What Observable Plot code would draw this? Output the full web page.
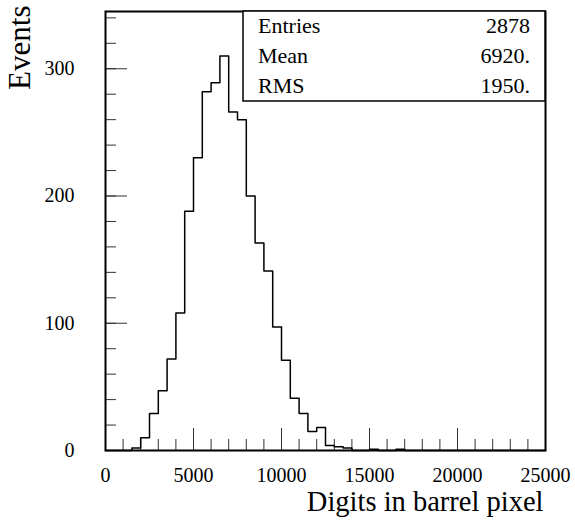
<!DOCTYPE html>
<html>
<head>
<meta charset="utf-8">
<script src="https://cdn.jsdelivr.net/npm/d3@7"></script>
<script src="https://cdn.jsdelivr.net/npm/@observablehq/plot@0.6"></script>
<style>
  html, body { margin: 0; padding: 0; background: white; }
</style>
</head>
<body>
<div id="chart"></div>
<script>
// Histogram: 50 bins of width 500 from 0 to 25000
const binStart = 0;
const binWidth = 500;
const counts = [
  0, 0, 0, 2, 10, 29, 47, 72, 108, 188,
  230, 282, 289, 310, 266, 260, 200, 163, 141, 97,
  71, 41, 29, 15, 18, 4, 3, 2, 0, 0,
  1, 0, 0, 1, 0, 0, 0, 0, 0, 0,
  0, 0, 0, 0, 0, 0, 0, 0, 0, 0
];
const xDomain = [0, 25000];
const yDomain = [0, 345];
const xMajorTicks = [0, 5000, 10000, 15000, 20000, 25000];
const xMinorTicks = d3.range(0, 25001, 1000);
const yMajorTicks = [0, 100, 200, 300];
const yMinorTicks = d3.range(0, 341, 20);
const xTitle = "Digits in barrel pixel";
const yTitle = "Events";
const statLabels = ["Entries", "Mean", "RMS"];
const statValues = ["2878", "6920.", "1950."];

const points = counts.map((c, i) => ({x: binStart + i * binWidth, y: c}));
points.push({x: binStart + counts.length * binWidth, y: 0});

const W = 575, H = 523;
const mL = 105, mR = 30, mT = 11, mB = 73;
const fw = W - mL - mR, fh = H - mT - mB;
const font = "Liberation Serif, Times New Roman, serif";

const plot = Plot.plot({
  width: W,
  height: H,
  marginLeft: mL,
  marginRight: mR,
  marginTop: mT,
  marginBottom: mB,
  style: {fontFamily: font, fontSize: "20px", background: "white", color: "black"},
  x: {domain: xDomain, axis: null},
  y: {domain: yDomain, axis: null},
  marks: [
    Plot.tickX(xMinorTicks, {x: d => d, stroke: "#333", strokeWidth: 1, insetTop: fh - 11}),
    Plot.tickX(xMajorTicks, {x: d => d, stroke: "#333", strokeWidth: 1, insetTop: fh - 22}),
    Plot.tickY(yMinorTicks, {y: d => d, stroke: "#333", strokeWidth: 1, insetRight: fw - 11}),
    Plot.tickY(yMajorTicks, {y: d => d, stroke: "#333", strokeWidth: 1, insetRight: fw - 22}),
    Plot.text(xMajorTicks, {x: d => d, text: d => String(d), frameAnchor: "bottom", lineAnchor: "middle", dy: 25, fontSize: 20}),
    Plot.text(yMajorTicks, {y: d => d, text: d => String(d), frameAnchor: "left", textAnchor: "end", lineAnchor: "middle", dx: -31, fontSize: 20}),
    Plot.line(points, {x: "x", y: "y", curve: "step-after", stroke: "black", strokeWidth: 1.5}),
    Plot.frame({stroke: "black", strokeWidth: 2}),
    Plot.text([xTitle], {frameAnchor: "bottom-right", textAnchor: "end", lineAnchor: "middle", dx: -2, dy: 51, fontSize: 28.5}),
    Plot.text([yTitle], {frameAnchor: "top-left", textAnchor: "end", lineAnchor: "middle", rotate: -90, dx: -85, dy: -6, fontSize: 31})
  ]
});

const svg = d3.select(plot);
const boxX = 243, boxY = 11, boxW = 302, boxH = 90;
const g = svg.append("g").attr("font-family", font).attr("font-size", 22).attr("fill", "black").attr("text-anchor", "start");
g.append("rect")
  .attr("x", boxX).attr("y", boxY).attr("width", boxW).attr("height", boxH)
  .attr("fill", "white").attr("stroke", "black").attr("stroke-width", 1.5);
statLabels.forEach((lab, i) => {
  g.append("text").attr("x", boxX + 15).attr("y", boxY + 22 + i * 30)
    .attr("text-anchor", "start").text(lab);
  g.append("text").attr("x", boxX + boxW - 15).attr("y", boxY + 22 + i * 30)
    .attr("text-anchor", "end").text(statValues[i]);
});

document.getElementById("chart").appendChild(plot);
</script>
</body>
</html>
